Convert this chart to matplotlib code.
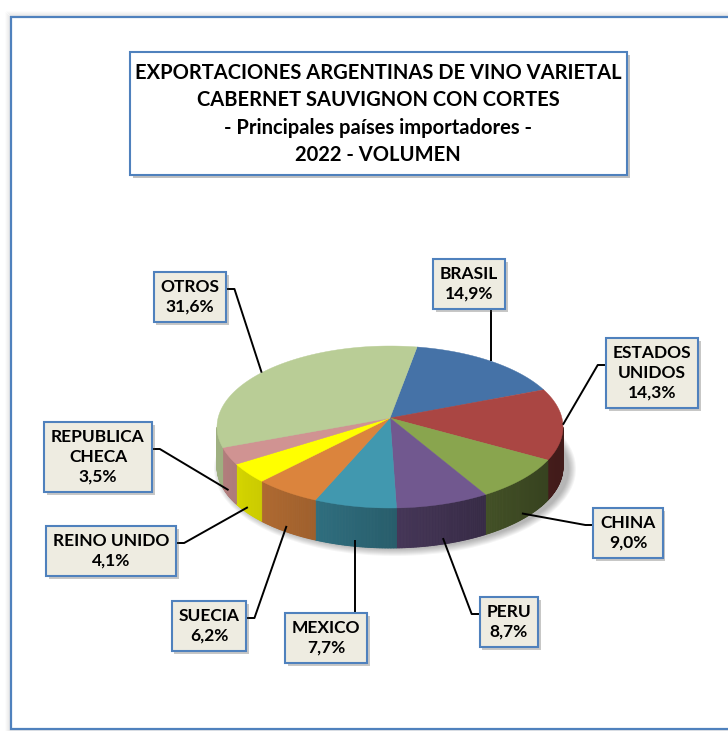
import numpy as np
import matplotlib
matplotlib.use("Agg")
import matplotlib.pyplot as plt
from matplotlib.patches import Polygon, Rectangle, Ellipse
from matplotlib.collections import PolyCollection
import matplotlib.patheffects as pe

plt.rcParams['font.family'] = ['Lato', 'DejaVu Sans']

# datos
paises = ['BRASIL', 'ESTADOS\nUNIDOS', 'CHINA', 'PERU', 'MEXICO', 'SUECIA',
          'REINO UNIDO', 'REPUBLICA\nCHECA', 'OTROS']
porcentajes = [14.9, 14.3, 9.0, 8.7, 7.7, 6.2, 4.1, 3.5, 31.6]
colores = ['#4572A7', '#AA4643', '#89A54E', '#71588F', '#4198AF', '#DB843D',
           '#FFFF00', '#D09392', '#B9CD96']

titulo = ('EXPORTACIONES ARGENTINAS DE VINO VARIETAL\n'
          'CABERNET SAUVIGNON CON CORTES\n'
          '- Principales países importadores -\n'
          '2022 - VOLUMEN')

# posicion de las cajas de etiqueta (centro) y lado donde se une la linea
pos_etiquetas = [(469, 284), (652, 373), (628, 533), (509, 622), (326, 638),
                 (209, 626), (111, 551), (98, 457), (190, 297)]
lado_union = ['bottom', 'left', 'left', 'left', 'top', 'right', 'right', 'right', 'right']

# geometria del pie 3D (en pixeles)
cx, cy, rx, ry, alto = 390, 427, 173, 81, 40
vertice_dy = -9  # el centro se ve mas arriba por la perspectiva
inicio = 81
AZUL = '#4F81BD'


def punto(t, dy=0):
    r = np.radians(t)
    return cx + rx * np.cos(r), cy - ry * np.sin(r) + dy


def sombra_lado(t):
    return 0.62 - 0.24 * np.cos(np.radians(t))


fig = plt.figure(figsize=(7.28, 7.31), dpi=100)
ax = fig.add_axes([0, 0, 1, 1])
ax.set_xlim(0, 728)
ax.set_ylim(731, 0)
ax.axis('off')

# marco exterior con sombra
for k in range(6):
    ax.add_patch(Rectangle((11 - k, 17 - k), 740, 712 + 2 * k, fill=False,
                           edgecolor='black', lw=1.2, alpha=0.07 * (6 - k) / 6, zorder=1))
ax.add_patch(Rectangle((11, 17), 740, 712, facecolor='white', edgecolor=AZUL, lw=1.6, zorder=2))

# titulo
caja_t = Rectangle((130, 52), 497, 123, facecolor='white', edgecolor=AZUL, lw=1.5, zorder=3)
caja_t.set_path_effects([pe.SimplePatchShadow(offset=(2, -2), alpha=0.35), pe.Normal()])
ax.add_patch(caja_t)
ax.text(378, 114, titulo, ha='center', va='center', fontsize=14.5, fontweight='bold',
        linespacing=1.45, zorder=4)

# pie
total = sum(porcentajes)
limites = inicio - 360 * np.concatenate([[0], np.cumsum(porcentajes)]) / total

for k in range(8):
    ax.add_patch(Ellipse((cx + 5, cy + alto + 2), 2 * rx + 16 - 2 * k, 2 * ry + 12 - 2 * k,
                         facecolor='black', edgecolor='none', alpha=0.04, zorder=4))

for i in range(len(porcentajes)):
    hi, lo = limites[i], limites[i + 1]
    pasos = np.linspace(hi, lo, max(int(abs(hi - lo) * 2), 2))
    quads, cols = [], []
    base = np.array(matplotlib.colors.to_rgb(colores[i]))
    for a, b in zip(pasos[:-1], pasos[1:]):
        m = (a + b) / 2
        if np.sin(np.radians(m)) < 0:
            quads.append([punto(a), punto(b), punto(b, alto), punto(a, alto)])
            cols.append(tuple(base * sombra_lado(m)))
    if quads:
        ax.add_collection(PolyCollection(quads, facecolors=cols, edgecolors=cols, lw=0.6, zorder=5))

for i in range(len(porcentajes)):
    hi, lo = limites[i], limites[i + 1]
    arco = [punto(t) for t in np.linspace(hi, lo, 200)]
    ax.add_patch(Polygon([(cx, cy + vertice_dy)] + arco, closed=True, facecolor=colores[i],
                         edgecolor=colores[i], lw=0.3, zorder=6))

# etiquetas
textos = []
for i, nombre in enumerate(paises):
    etiqueta = nombre + '\n' + f'{porcentajes[i]:.1f}'.replace('.', ',') + '%'
    x, y = pos_etiquetas[i]
    t = ax.text(x, y, etiqueta, ha='center', va='center', fontsize=12.5, fontweight='bold',
                linespacing=1.3, zorder=9,
                bbox=dict(boxstyle='square,pad=0.4', facecolor='#EEECE1', edgecolor=AZUL, lw=1.5))
    t.get_bbox_patch().set_path_effects([pe.SimplePatchShadow(offset=(2, -2), alpha=0.3), pe.Normal()])
    textos.append(t)

fig.canvas.draw()
inv = ax.transData.inverted()
for i, t in enumerate(textos):
    bb = t.get_bbox_patch().get_window_extent()
    (x0, y1), (x1, y0) = inv.transform([[bb.x0, bb.y0], [bb.x1, bb.y1]])
    medio = (limites[i] + limites[i + 1]) / 2
    dy = alto * 0.85 if np.sin(np.radians(medio)) < 0 else 0
    ancla = punto(medio, dy)
    yc = pos_etiquetas[i][1] - 8
    if lado_union[i] == 'left':
        xs, ys = [x0, x0 - 8, ancla[0]], [yc, yc, ancla[1]]
    elif lado_union[i] == 'right':
        xs, ys = [x1, x1 + 8, ancla[0]], [yc, yc, ancla[1]]
    elif lado_union[i] == 'top':
        xs, ys = [ancla[0], ancla[0]], [y0, ancla[1]]
    else:
        xs, ys = [ancla[0], ancla[0]], [y1, ancla[1]]
    ax.plot(xs, ys, color='black', lw=1.4, zorder=8, solid_capstyle='butt')

fig.savefig('out.png', dpi=100)
